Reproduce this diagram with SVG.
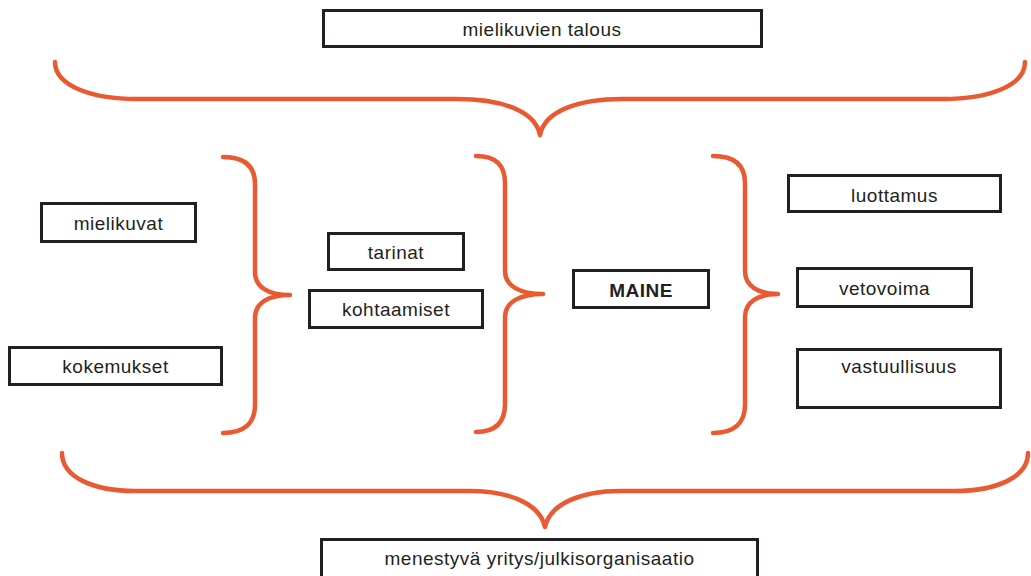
<svg xmlns="http://www.w3.org/2000/svg" width="1031" height="576" viewBox="0 0 1031 576">
  <style>
    .box { fill: #ffffff; stroke: #231f20; stroke-width: 3; }
    .label { font-family: "Liberation Sans", Arial, sans-serif; font-size: 19px; letter-spacing: 0.5px; fill: #231f20; text-anchor: middle; }
    .bold { font-weight: bold; }
    .brace { fill: none; stroke: #e95a32; stroke-width: 4.5; stroke-linecap: round; stroke-linejoin: round; }
  </style>
  <rect width="1031" height="576" fill="#ffffff"/>

  <!-- curly braces -->
  <g id="connectors">
    <path class="brace" d="M55,62 C55,86 92,99 137,99 L457,99 C500,99 535,110 540,135 C545,110 580,99 623,99 L943,99 C988,99 1025,86 1025,62"/>
    <path class="brace" d="M62,453 C62,478 95,491 135,491 L469,491 C510,491 540,504 545,527 C550,504 580,491 621,491 L955,491 C995,491 1028,478 1028,453"/>
    <path class="brace" d="M223,157 C244,157 255,166 255,184 L255,272 C255,287 268,295 290,295 C268,295 255,303 255,318 L255,405 C255,423 244,433 223,433"/>
    <path class="brace" d="M476,156 C496,156 505,165 505,183 L505,271 C505,286 520,294 543,294 C520,294 505,302 505,317 L505,404 C505,422 496,432 476,432"/>
    <path class="brace" d="M713,156 C734,156 745,165 745,183 L745,271 C745,286 758,294 778,294 C758,294 745,302 745,317 L745,405 C745,423 734,433 713,433"/>
  </g>

  <g id="mielikuvien-talous">
    <rect class="box" x="323.5" y="10.5" width="438" height="36"/>
    <text class="label" x="542" y="36">mielikuvien talous</text>
  </g>
  <g id="mielikuvat">
    <rect class="box" x="41.5" y="203.5" width="154" height="38"/>
    <text class="label" x="118.5" y="230">mielikuvat</text>
  </g>
  <g id="kokemukset">
    <rect class="box" x="9.5" y="347.5" width="212" height="37"/>
    <text class="label" x="115.5" y="373">kokemukset</text>
  </g>
  <g id="tarinat">
    <rect class="box" x="328.5" y="233.5" width="135" height="36"/>
    <text class="label" x="396" y="259">tarinat</text>
  </g>
  <g id="kohtaamiset">
    <rect class="box" x="309.5" y="290.5" width="173" height="37"/>
    <text class="label" x="396" y="316">kohtaamiset</text>
  </g>
  <g id="maine">
    <rect class="box" x="573.5" y="270.5" width="135" height="37"/>
    <text class="label bold" x="641" y="297">MAINE</text>
  </g>
  <g id="luottamus">
    <rect class="box" x="788.5" y="175.5" width="212" height="36"/>
    <text class="label" x="894.5" y="202">luottamus</text>
  </g>
  <g id="vetovoima">
    <rect class="box" x="797.5" y="268.5" width="174" height="38"/>
    <text class="label" x="884.5" y="295">vetovoima</text>
  </g>
  <g id="vastuullisuus">
    <rect class="box" x="797.5" y="349.5" width="203" height="58"/>
    <text class="label" x="899" y="373">vastuullisuus</text>
  </g>
  <g id="menestyva-yritys">
    <rect class="box" x="321.5" y="539.5" width="436" height="40"/>
    <text class="label" x="539.5" y="565">menestyvä yritys/julkisorganisaatio</text>
  </g>
</svg>
